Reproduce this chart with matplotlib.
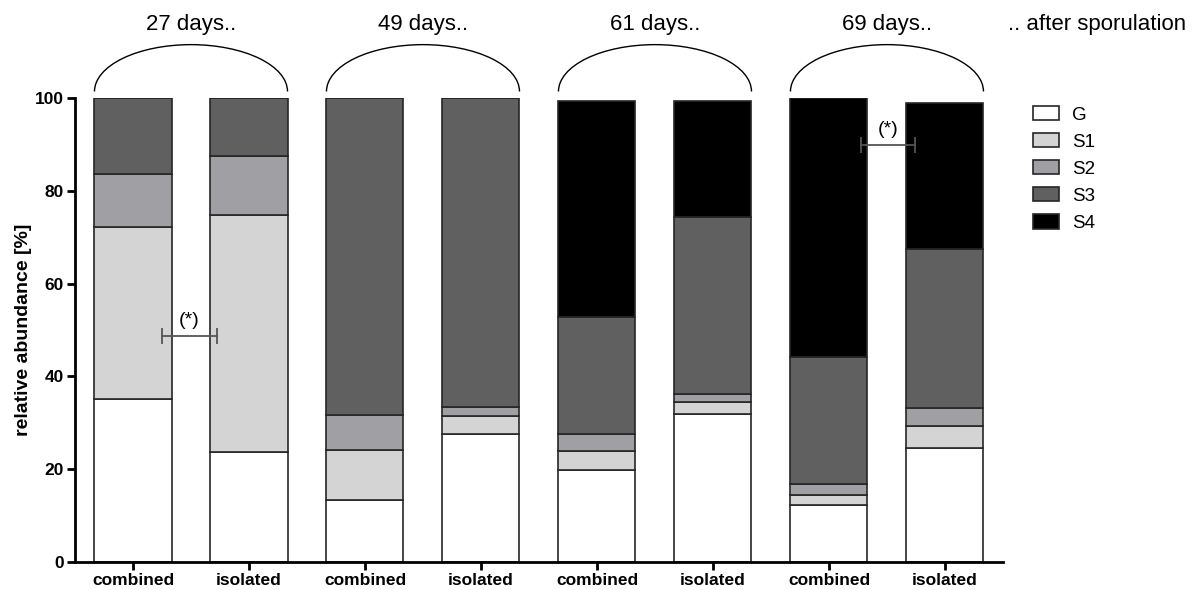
import numpy as np
import matplotlib
matplotlib.use("Agg")
import matplotlib.pyplot as plt
from matplotlib.patches import Arc

plt.rcParams["font.family"] = ["Liberation Sans", "DejaVu Sans"]

# data (relative abundance, %)
days = ["27 days..", "49 days..", "61 days..", "69 days.."]
conditions = ["combined", "isolated", "combined", "isolated",
              "combined", "isolated", "combined", "isolated"]
stages = ["G", "S1", "S2", "S3", "S4"]

G  = [35.1, 23.7, 13.4, 27.6, 19.8, 31.9, 12.2, 24.6]
S1 = [37.1, 51.1, 10.8,  3.8,  4.1,  2.6,  2.2,  4.6]
S2 = [11.4, 12.7,  7.4,  2.1,  3.6,  1.7,  2.4,  3.9]
S3 = [16.4, 12.5, 68.4, 66.5, 25.3, 38.1, 27.3, 34.4]
S4 = [ 0.0,  0.0,  0.0,  0.0, 46.6, 25.1, 55.9, 31.5]

colors = ["#ffffff", "#d4d4d4", "#a0a0a4", "#606060", "#000000"]

# significance marks: (left x, right x, y)
sig_marks = [(0.25, 0.72, 48.7), (6.28, 6.74, 89.9)]

fig = plt.figure(figsize=(11.98, 5.9), dpi=100)
ax = fig.add_axes([0.0626, 0.0475, 0.7746, 0.7864])

x = np.arange(len(conditions))
width = 0.664
bottom = np.zeros(len(conditions))
for name, vals, c in zip(stages, [G, S1, S2, S3, S4], colors):
    vals = np.array(vals)
    ax.bar(x, vals, width, bottom=bottom, color=c, edgecolor="#262626",
           linewidth=1.2, label=name)
    bottom += vals

ax.set_xlim(-0.5, 7.5)
ax.set_ylim(0, 100)
ax.set_yticks([0, 20, 40, 60, 80, 100])
ax.set_xticks(x)
ax.set_xticklabels(conditions, fontsize=12.5, fontweight="bold")
for lab in ax.get_yticklabels():
    lab.set_fontweight("bold")
    lab.set_fontsize(12.5)
ax.set_ylabel("relative abundance [%]", fontsize=14, fontweight="bold")
ax.yaxis.set_label_coords(-0.046, 0.5)

for s in ["top", "right"]:
    ax.spines[s].set_visible(False)
for s in ["left", "bottom"]:
    ax.spines[s].set_linewidth(2.0)
ax.tick_params(axis="both", width=2.0, length=6, direction="out", pad=2)

# arcs and day labels over each pair of bars
for i, d in enumerate(days):
    cx = 2 * i + 0.5
    arc = Arc((cx, 101.4), 1 + width, 20.2, theta1=0, theta2=180,
              color="black", linewidth=1.0, clip_on=False)
    ax.add_patch(arc)
    ax.text(cx, 115.8, d, ha="center", va="center", fontsize=16, clip_on=False)

ax.text(7.547, 115.8, ".. after sporulation", ha="left", va="center",
        fontsize=16, clip_on=False)

# significance brackets
for x0, x1, y in sig_marks:
    ax.plot([x0, x1], [y, y], color="#555555", linewidth=1.3, clip_on=False)
    ax.plot([x0, x1], [y, y], linestyle="none", marker="|", markersize=11,
            markeredgewidth=1.3, color="#555555", clip_on=False)
    ax.text((x0 + x1) / 2, y + 1.5, "(*)", ha="center", va="bottom", fontsize=14)

ax.legend(loc="upper left", bbox_to_anchor=(1.024, 0.999), frameon=False,
          fontsize=13.5, handlelength=1.38, handleheight=0.8,
          handletextpad=0.7, labelspacing=0.5, borderaxespad=0)

fig.savefig("out.png", dpi=100)
